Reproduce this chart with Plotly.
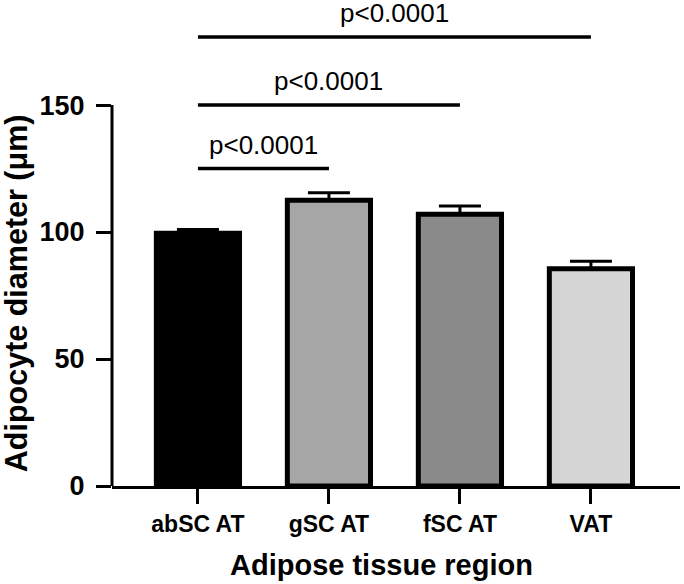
import plotly.graph_objects as go

# ---- data ----
categories = ["abSC AT", "gSC AT", "fSC AT", "VAT"]
means = [99.5, 112.5, 107.0, 85.5]
sem = [1.5, 3.0, 3.3, 3.0]
bar_colors = ["#000000", "#a6a6a6", "#8a8a8a", "#d6d6d6"]
y_ticks = [0, 50, 100, 150]

# significance comparisons (from, to, bracket height, label)
comp_from = ["abSC AT", "abSC AT", "abSC AT"]
comp_to = ["gSC AT", "fSC AT", "VAT"]
comp_height = [125.0, 150.0, 176.8]
comp_label = ["p<0.0001", "p<0.0001", "p<0.0001"]

FONT = "Liberation Sans, Arial, sans-serif"
Y_MAX = 189.4
LABEL_OFFSET = 9.4

fig = go.Figure()
fig.add_trace(go.Bar(
    x=categories, y=means, width=0.635,
    marker=dict(color=bar_colors, line=dict(color="black", width=5)),
    error_y=dict(type="data", array=sem, arrayminus=[0] * len(sem), symmetric=False,
                 color="black", thickness=3, width=21),
    showlegend=False, hoverinfo="skip",
))

for a, b, h, lab in zip(comp_from, comp_to, comp_height, comp_label):
    fig.add_trace(go.Scatter(x=[a, b], y=[h, h], mode="lines",
                             line=dict(color="black", width=3.5),
                             showlegend=False, hoverinfo="skip", cliponaxis=False))
    ia, ib = categories.index(a), categories.index(b)
    fig.add_annotation(x=(ia + ib) / 2, y=h + LABEL_OFFSET, xref="x", yref="y",
                       text=lab, showarrow=False, yanchor="middle",
                       font=dict(family=FONT, size=26, color="black"))

# y-axis line only up to 150
fig.add_shape(type="line", xref="paper", yref="y", x0=0, x1=0, y0=0, y1=y_ticks[-1],
              line=dict(color="black", width=3))

# axis titles
fig.add_annotation(x=0.474, y=-0.165, xref="paper", yref="paper", text="Adipose tissue region",
                   showarrow=False, xanchor="center", yanchor="middle",
                   font=dict(family=FONT, size=29, color="black", weight="bold"))
fig.add_annotation(x=-0.168, y=0.40, xref="paper", yref="paper", text="Adipocyte diameter (μm)",
                   showarrow=False, xanchor="center", yanchor="middle", textangle=-90,
                   font=dict(family=FONT, size=30.5, color="black", weight="bold"))

fig.update_layout(
    width=684, height=584,
    margin=dict(l=112, r=4, t=5, b=98),
    paper_bgcolor="white", plot_bgcolor="white",
    xaxis=dict(
        range=[-0.656, 3.68], showgrid=False, zeroline=False,
        showline=True, linecolor="black", linewidth=3,
        ticks="outside", ticklen=15, tickwidth=3, tickcolor="black",
        tickfont=dict(family=FONT, size=23, color="black", weight="bold"),
    ),
    yaxis=dict(
        range=[0, Y_MAX], showgrid=False, zeroline=False, showline=False,
        tickvals=y_ticks, ticks="outside", ticklen=15, tickwidth=3, tickcolor="black",
        tickfont=dict(family=FONT, size=27, color="black", weight="bold"),
        ticklabelstandoff=6,
    ),
)

fig.write_html("out.html", config={"displayModeBar": False},
               post_script="document.body.style.margin='0px';")
